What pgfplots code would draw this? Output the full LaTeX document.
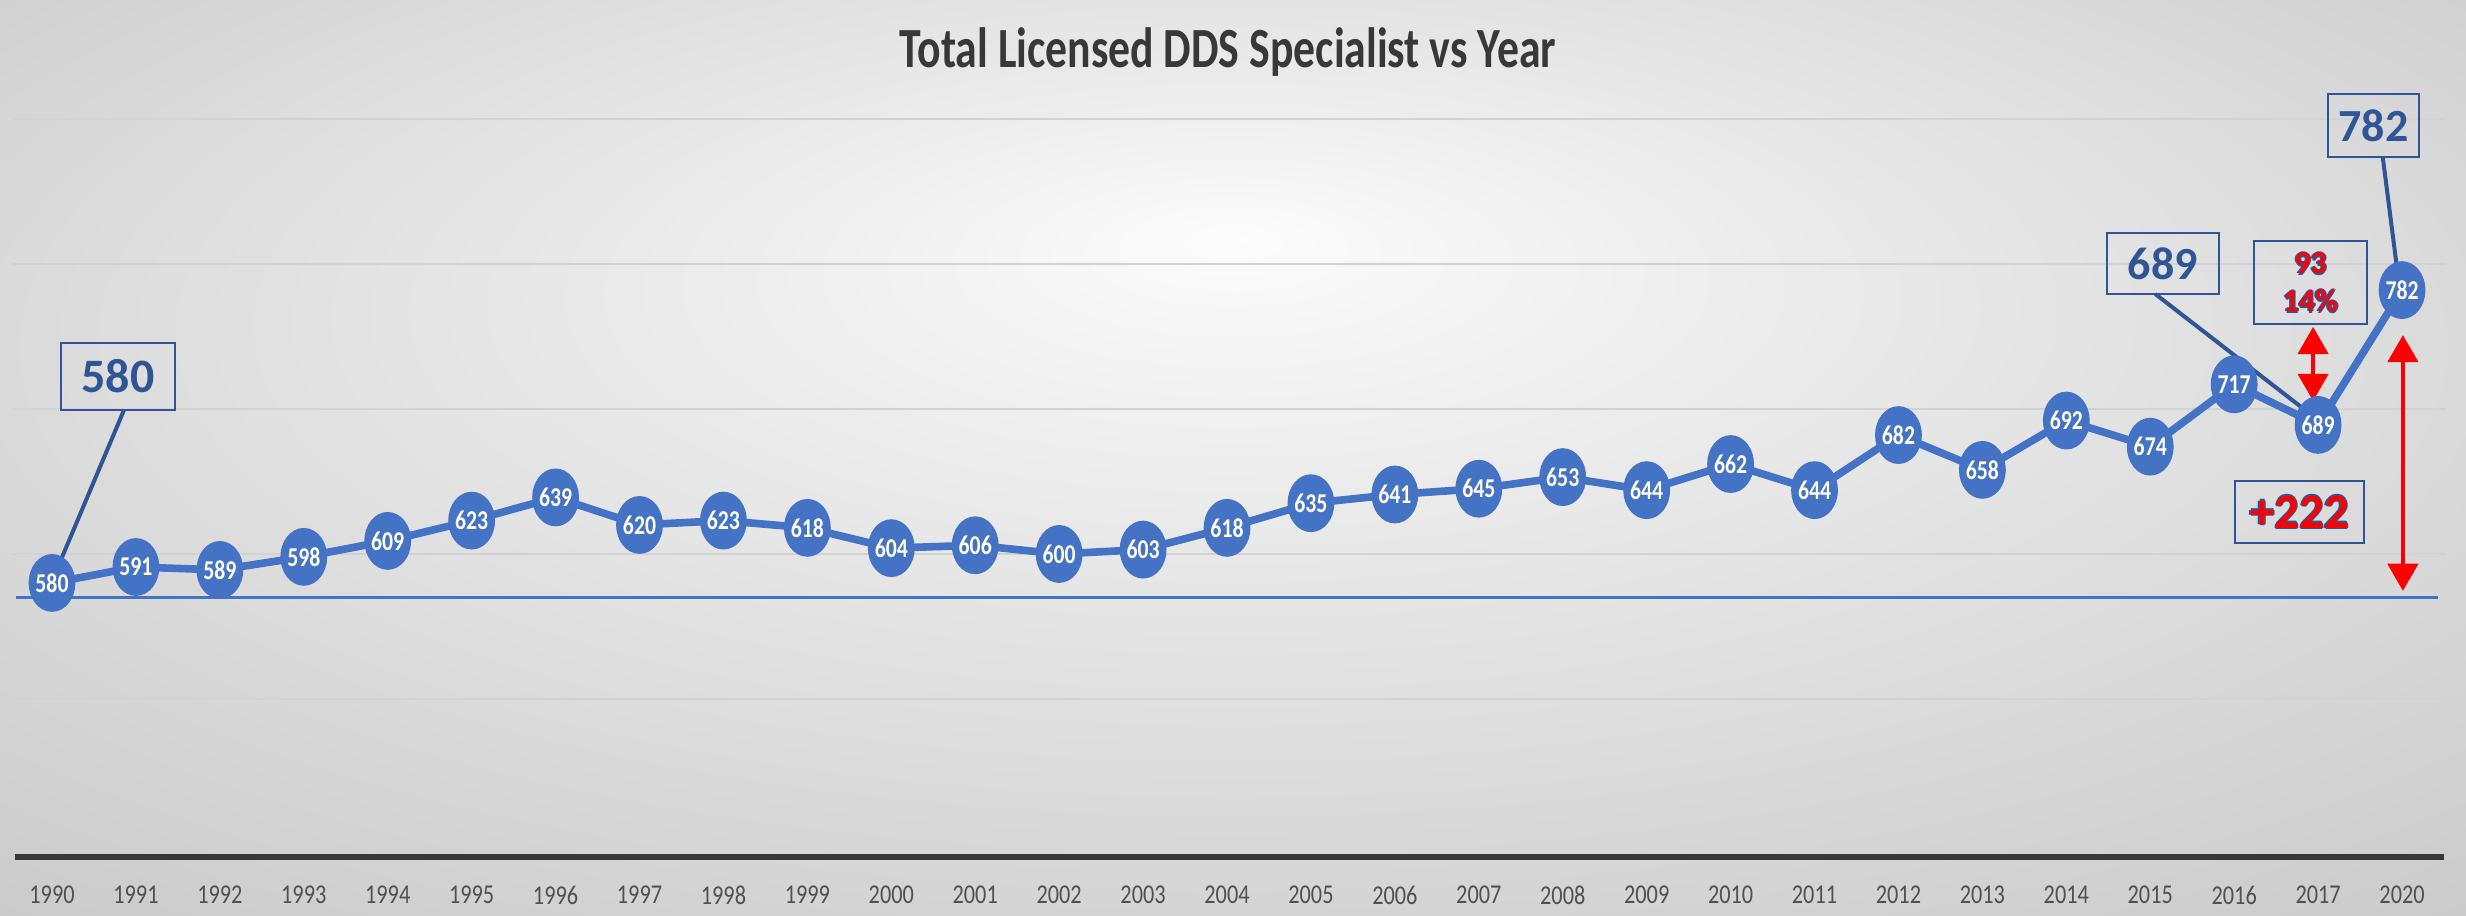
\documentclass[border=0pt]{standalone}
\usepackage{pgfplots}
\pgfplotsset{compat=1.18}
\usepackage{fontspec}
\setmainfont{Carlito}
\usepackage{graphicx}
\usetikzlibrary{arrows.meta}
\definecolor{serblue}{HTML}{4472C4}
\definecolor{calblue}{HTML}{2F5597}
\definecolor{titlegray}{HTML}{383838}
\definecolor{tickgray}{HTML}{505050}
\definecolor{gridgray}{HTML}{D2D2D2}
\definecolor{bgA}{HTML}{FCFCFC}
\definecolor{bgB}{HTML}{EDEDED}
\definecolor{bgC}{HTML}{DADADA}
\definecolor{bgD}{HTML}{C8C8C8}
\definecolor{redc}{HTML}{FF0000}
\pgfdeclareradialshading{bgshade}{\pgfpoint{0bp}{12bp}}{color(0bp)=(bgA); color(10bp)=(bgB); color(25bp)=(bgC); color(40bp)=(bgD); color(50bp)=(bgD)}
\newcommand{\outl}[1]{\leavevmode\rlap{\kern-0.35pt\textcolor{calblue}{#1}}\rlap{\kern0.35pt\textcolor{calblue}{#1}}\rlap{\raisebox{0.35pt}{\textcolor{calblue}{#1}}}\rlap{\raisebox{-0.35pt}{\textcolor{calblue}{#1}}}\textcolor{redc}{#1}}
\pgfplotsset{/pgf/number format/assume math mode=true}
\begin{document}
\begin{tikzpicture}
\begin{axis}[
  scale only axis, width=616.5pt, height=229pt,
  xmin=-0.6196, xmax=28.762, ymin=350.3, ymax=982.1,
  axis line style={draw=none}, tick style={draw=none},
  axis background/.style={shade, shading=bgshade},
  xtick={0,...,28},
  xticklabels={1990,1991,1992,1993,1994,1995,1996,1997,1998,1999,2000,2001,2002,2003,2004,2005,2006,2007,2008,2009,2010,2011,2012,2013,2014,2015,2016,2017,2020},
  xticklabel style={anchor=center, yshift=5.25pt, font=\fontsize{6.8}{7}\selectfont, text=tickgray, xscale=0.82},
  ytick=\empty,
  clip=false,
]
\pgfplotsinvokeforeach{500,600,700,800,900}{
  \draw[gridgray, line width=0.7pt] (axis cs:-0.465,#1) -- (axis cs:28.52,#1);
}
\draw[titlegray, line width=1.3pt] (axis cs:-0.44,391) -- (axis cs:28.5,391);
\draw[serblue, line width=0.8pt] (axis cs:-0.43,569.7) -- (axis cs:28.43,569.7);

\addplot[serblue, line width=1.9pt, mark=*, mark size=4.9pt,
  mark options={fill=serblue, draw=none, yscale=1.28},
  nodes near coords,
  every node near coord/.append style={anchor=center, text=white, font=\bfseries\fontsize{6.8}{7}\selectfont, xscale=0.8}]
coordinates {(0,580)(1,591)(2,589)(3,598)(4,609)(5,623)(6,639)(7,620)(8,623)(9,618)(10,604)(11,606)(12,600)(13,603)(14,618)(15,635)(16,641)(17,645)(18,653)(19,644)(20,662)(21,644)(22,682)(23,658)(24,692)(25,674)(26,717)(27,689)(28,782)};

\node[font=\bfseries\fontsize{14.2}{14}\selectfont, text=titlegray, xscale=0.77] at (axis cs:14.01,946.2) {Total Licensed DDS Specialist vs Year};

% callouts
\draw[calblue, line width=1pt] (axis cs:0.107,596) -- (axis cs:0.858,699.3);
\node[draw=calblue, line width=0.5pt, minimum width=28.5pt, minimum height=16.75pt, inner sep=0pt, text=calblue, font=\bfseries\fontsize{12}{12}\selectfont] at (axis cs:0.786,722.4) {580};

\draw[calblue, line width=1pt] (axis cs:25.06,779.3) -- (axis cs:26.85,699);
\node[draw=calblue, line width=0.5pt, minimum width=28pt, minimum height=15.25pt, inner sep=0pt, text=calblue, font=\bfseries\fontsize{11.5}{11.5}\selectfont] at (axis cs:25.15,800.3) {689};

\draw[calblue, line width=1pt] (axis cs:27.77,873.8) -- (axis cs:27.94,797);
\node[draw=calblue, line width=0.5pt, minimum width=22.75pt, minimum height=15.75pt, inner sep=0pt, text=calblue, font=\bfseries\fontsize{11.5}{11.5}\selectfont] at (axis cs:27.66,895.5) {782};

\node[draw=calblue, line width=0.5pt, minimum width=28.25pt, minimum height=20.75pt, inner sep=0pt, align=center, font=\bfseries\fontsize{7.9}{9.5}\selectfont] at (axis cs:26.91,787.2) {\outl{93}\\\outl{14\%}};

\node[draw=calblue, line width=0.5pt, minimum width=32.25pt, minimum height=15.5pt, inner sep=0pt, font=\bfseries\fontsize{12.3}{12.3}\selectfont] at (axis cs:26.78,629) {\outl{+222}};

\draw[redc, line width=1.1pt, {Triangle[width=7.5pt,length=6.8pt]}-{Triangle[width=7.5pt,length=6.8pt]}] (axis cs:26.94,756.6) -- (axis cs:26.94,705.5);
\draw[redc, line width=1.2pt, {Triangle[width=7.5pt,length=6.8pt]}-{Triangle[width=7.5pt,length=6.8pt]}] (axis cs:28.01,751) -- (axis cs:28.01,574.5);
\end{axis}
\pgfresetboundingbox
\path[use as bounding box] (current axis.south west) rectangle (current axis.north east);
\end{tikzpicture}
\end{document}
